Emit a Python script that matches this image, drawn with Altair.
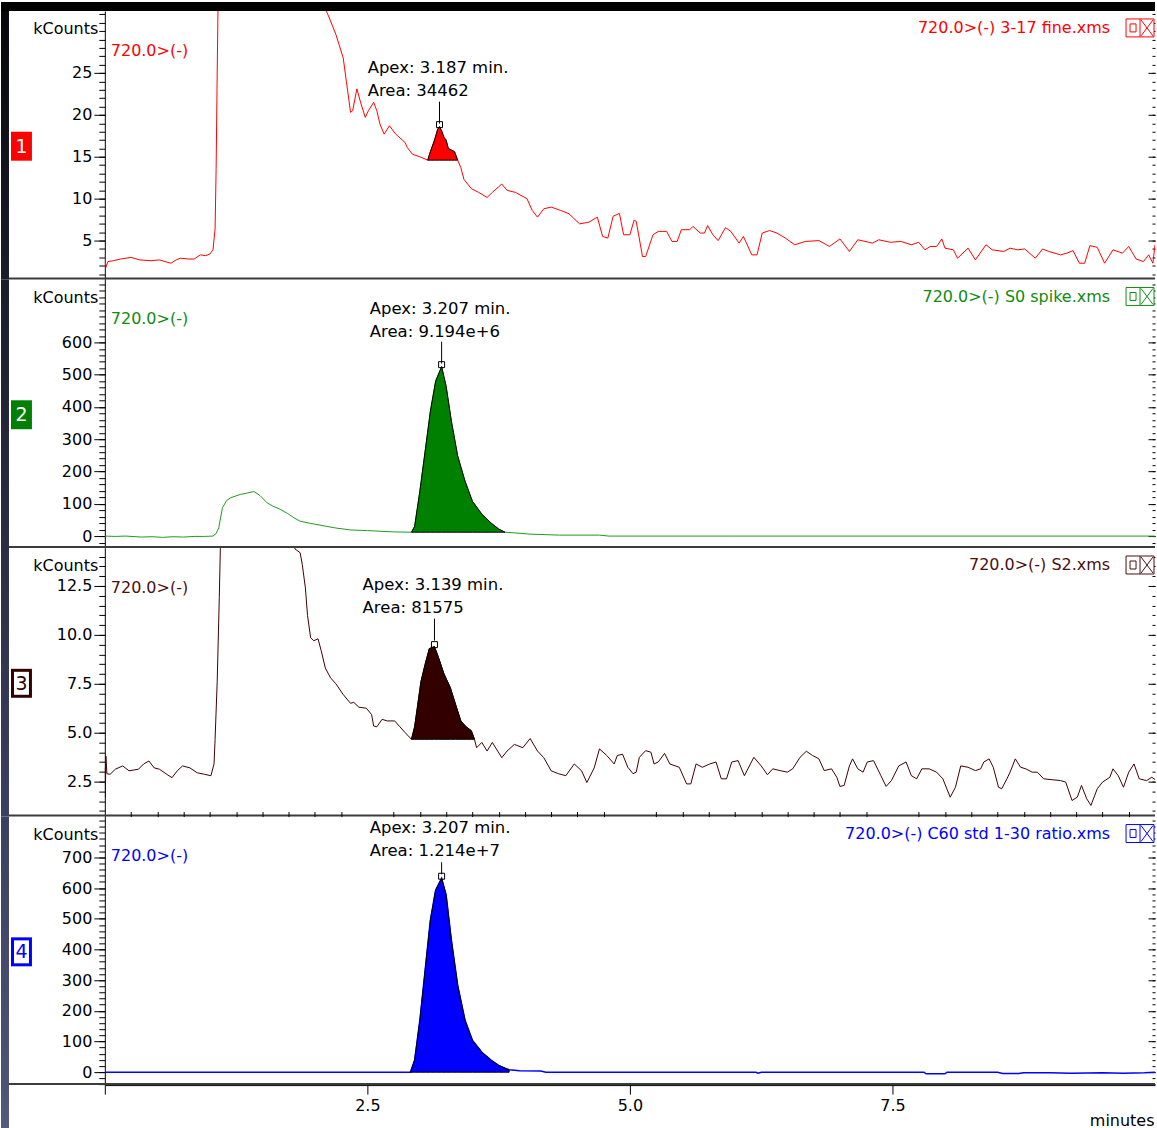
import altair as alt
import pandas as pd

FONT = "DejaVu Sans"
W, H, BOTTOM = 1052, 269, 43

# ---------------- data (time in minutes, kCounts) ----------------
P1_TRACE = [(0.00, 3.4), (0.01, 1.8), (0.03, 2.5), (0.08, 2.6), (0.15, 2.8), (0.25, 3.0), (0.33, 2.7),
            (0.44, 2.6), (0.52, 2.7), (0.60, 2.4), (0.63, 2.3), (0.68, 2.7), (0.72, 2.9), (0.80, 2.8),
            (0.85, 2.8), (0.91, 3.3), (0.96, 3.2), (1.00, 3.4), (1.03, 3.9), (1.05, 6.4), (1.06, 13.6),
            (1.07, 25.0), (1.09, 45.0), (1.20, 90.0), (1.60, 140.0), (2.00, 70.0), (2.08, 36.0),
            (2.10, 32.6), (2.13, 31.8), (2.20, 29.6), (2.23, 28.4), (2.27, 26.8), (2.30, 24.0), (2.34, 20.3),
            (2.36, 20.5), (2.40, 23.1), (2.44, 21.3), (2.48, 19.7), (2.51, 20.5), (2.56, 21.5), (2.59, 20.5),
            (2.62, 18.9), (2.66, 17.7), (2.71, 18.7), (2.77, 17.7), (2.86, 16.7), (2.88, 16.1), (2.93, 15.3),
            (3.00, 15.0), (3.075, 14.6), (3.10, 15.6), (3.14, 17.0), (3.17, 18.3), (3.187, 18.6), (3.21, 18.0),
            (3.23, 17.3), (3.25, 17.0), (3.27, 16.0), (3.30, 15.8), (3.33, 15.6), (3.36, 14.6), (3.39, 13.7),
            (3.42, 12.3), (3.49, 11.2), (3.56, 10.75), (3.64, 10.15), (3.69, 10.75), (3.78, 11.75), (3.83, 11.0),
            (3.91, 10.75), (4.02, 10.0), (4.07, 8.6), (4.12, 7.8), (4.18, 8.8), (4.25, 9.0), (4.34, 8.6),
            (4.42, 8.2), (4.52, 7.0), (4.61, 7.2), (4.69, 7.8), (4.74, 5.5), (4.79, 5.3), (4.84, 7.9),
            (4.90, 8.25), (4.94, 5.7), (5.00, 5.7), (5.04, 7.45), (5.06, 7.3), (5.12, 3.1), (5.15, 3.1),
            (5.22, 5.7), (5.27, 6.1), (5.35, 6.1), (5.40, 4.9), (5.45, 4.9), (5.49, 6.3), (5.57, 6.3),
            (5.60, 6.7), (5.67, 5.9), (5.71, 5.9), (5.74, 6.8), (5.79, 5.7), (5.84, 5.0), (5.91, 6.55),
            (5.96, 6.1), (6.04, 4.7), (6.08, 5.5), (6.11, 4.7), (6.16, 3.3), (6.21, 3.3), (6.26, 5.9),
            (6.33, 6.2), (6.40, 5.9), (6.48, 5.3), (6.57, 4.5), (6.67, 4.9), (6.80, 5.0), (6.90, 4.3),
            (7.00, 5.2), (7.09, 3.7), (7.17, 5.1), (7.31, 4.7), (7.37, 5.1), (7.48, 4.8), (7.58, 4.9),
            (7.68, 4.5), (7.75, 4.8), (7.81, 3.9), (7.86, 4.3), (7.92, 4.3), (7.97, 5.2), (8.00, 4.1),
            (8.08, 3.9), (8.12, 2.9), (8.22, 4.1), (8.29, 2.7), (8.39, 4.5), (8.45, 3.9), (8.56, 3.7),
            (8.62, 4.1), (8.69, 3.9), (8.76, 4.0), (8.86, 2.9), (8.93, 4.0), (8.99, 3.7), (9.10, 3.3),
            (9.16, 3.5), (9.22, 3.8), (9.28, 2.3), (9.33, 2.3), (9.38, 4.4), (9.45, 4.2), (9.52, 2.3),
            (9.60, 3.9), (9.69, 3.5), (9.75, 4.3), (9.82, 2.8), (9.89, 2.5), (9.94, 3.3), (9.98, 2.3),
            (10.0, 4.5)]
P1_PEAK = [(3.075, 14.6), (3.10, 15.6), (3.14, 17.0), (3.17, 18.3), (3.187, 18.6), (3.21, 18.0),
           (3.23, 17.3), (3.25, 17.0), (3.27, 16.0), (3.30, 15.8), (3.33, 15.6), (3.36, 14.6)]
P1_BASE = 14.6
P1_APEX = (3.187, 18.6)

P2_TRACE = [(0.00, 0), (0.10, -1), (0.20, 0), (0.35, -3), (0.45, -2), (0.55, -4), (0.65, -2), (0.75, -3),
            (0.85, -1), (0.95, -1), (1.03, 0), (1.06, 8), (1.085, 26), (1.12, 88), (1.16, 110), (1.20, 119),
            (1.29, 129), (1.35, 133), (1.42, 138), (1.48, 125), (1.545, 103), (1.60, 93), (1.67, 83),
            (1.74, 70), (1.80, 57), (1.86, 46), (1.95, 40), (2.05, 34), (2.20, 25), (2.34, 19), (2.50, 17),
            (2.62, 15), (2.75, 13), (2.92, 12), (2.95, 30), (3.00, 139), (3.05, 263), (3.10, 387),
            (3.15, 480), (3.207, 525), (3.25, 464), (3.30, 356), (3.36, 248), (3.43, 170), (3.50, 108),
            (3.59, 68), (3.68, 40), (3.75, 22), (3.81, 12), (3.90, 10), (4.05, 6), (4.33, 3), (4.71, 3),
            (4.80, 0), (6.00, 0), (8.00, 0), (10.0, 0)]
P2_PEAK = [(2.92, 12), (2.95, 30), (3.00, 139), (3.05, 263), (3.10, 387), (3.15, 480), (3.207, 525),
           (3.25, 464), (3.30, 356), (3.36, 248), (3.43, 170), (3.50, 108), (3.59, 68), (3.68, 40),
           (3.75, 22), (3.81, 12)]
P2_BASE = 12
P2_APEX = (3.207, 525)

P3_TRACE = [(0.00, 3.2), (0.005, 1.7), (0.01, 3.8), (0.02, 2.9), (0.05, 2.87), (0.10, 3.13), (0.17, 3.3),
            (0.23, 3.05), (0.32, 3.13), (0.37, 3.4), (0.42, 3.55), (0.47, 3.2), (0.52, 3.13), (0.59, 2.87),
            (0.64, 2.7), (0.69, 3.05), (0.74, 3.3), (0.81, 3.2), (0.88, 2.95), (0.95, 2.87), (1.01, 2.8),
            (1.04, 3.4), (1.05, 4.66), (1.07, 7.6), (1.09, 11.9), (1.10, 14.4), (1.12, 20.0), (1.50, 40.0),
            (1.80, 15.5), (1.81, 14.4), (1.86, 14.2), (1.88, 13.6), (1.91, 12.4), (1.93, 11.0), (1.96, 9.85),
            (1.99, 9.7), (2.03, 9.8), (2.06, 9.2), (2.10, 8.3), (2.15, 7.8), (2.20, 7.5), (2.27, 6.95),
            (2.34, 6.5), (2.37, 6.55), (2.42, 6.3), (2.49, 6.25), (2.54, 5.93), (2.56, 5.34), (2.59, 5.3),
            (2.64, 5.68), (2.69, 5.6), (2.76, 5.6), (2.81, 5.3), (2.86, 5.0), (2.92, 4.66), (2.95, 5.3),
            (2.98, 6.44), (3.01, 7.6), (3.05, 8.5), (3.09, 9.3), (3.139, 9.4), (3.18, 8.8), (3.23, 8.0),
            (3.29, 7.3), (3.34, 6.44), (3.39, 5.6), (3.44, 5.3), (3.49, 5.1), (3.52, 4.66), (3.54, 4.23),
            (3.59, 4.5), (3.64, 4.06), (3.69, 4.5), (3.78, 3.72), (3.83, 4.06), (3.90, 4.4), (3.98, 4.23),
            (4.05, 4.7), (4.12, 4.06), (4.18, 3.72), (4.25, 3.05), (4.32, 2.9), (4.39, 2.8), (4.47, 3.4),
            (4.54, 3.05), (4.59, 2.45), (4.66, 3.2), (4.71, 4.17), (4.78, 3.83), (4.85, 3.4), (4.88, 3.83),
            (4.93, 3.9), (4.98, 3.23), (5.03, 2.9), (5.06, 2.98), (5.09, 3.74), (5.15, 4.08), (5.20, 4.0),
            (5.23, 3.4), (5.27, 3.5), (5.33, 3.94), (5.38, 3.4), (5.47, 3.23), (5.54, 2.38), (5.58, 2.38),
            (5.63, 3.4), (5.69, 3.23), (5.76, 3.4), (5.82, 3.5), (5.87, 2.64), (5.92, 2.64), (5.97, 3.5),
            (6.03, 3.57), (6.09, 2.8), (6.18, 3.74), (6.25, 3.3), (6.31, 2.85), (6.36, 3.15), (6.43, 3.06),
            (6.50, 2.98), (6.55, 3.15), (6.62, 3.74), (6.68, 4.05), (6.74, 3.83), (6.80, 3.66), (6.85, 3.06),
            (6.92, 3.15), (6.97, 2.72), (7.00, 2.25), (7.04, 2.3), (7.09, 3.3), (7.12, 3.66), (7.17, 3.15),
            (7.22, 2.98), (7.26, 3.5), (7.32, 3.57), (7.39, 2.8), (7.44, 2.25), (7.49, 2.55), (7.56, 3.3),
            (7.63, 3.5), (7.68, 2.8), (7.73, 2.64), (7.78, 3.15), (7.85, 3.15), (7.92, 2.98), (7.98, 2.64),
            (8.05, 1.7), (8.10, 2.21), (8.15, 3.3), (8.22, 3.23), (8.29, 3.06), (8.34, 3.15), (8.37, 3.5),
            (8.42, 3.66), (8.46, 3.23), (8.51, 2.21), (8.54, 2.13), (8.59, 2.64), (8.62, 2.98), (8.67, 3.66),
            (8.72, 3.23), (8.77, 3.15), (8.83, 2.98), (8.88, 2.98), (8.94, 2.64), (9.01, 2.6), (9.10, 2.55),
            (9.15, 2.47), (9.21, 1.53), (9.26, 1.7), (9.30, 2.3), (9.35, 1.62), (9.39, 1.28), (9.45, 2.13),
            (9.50, 2.47), (9.57, 2.72), (9.60, 3.15), (9.65, 2.8), (9.70, 2.21), (9.75, 2.98), (9.80, 3.4),
            (9.85, 2.64), (9.92, 2.55), (9.97, 2.72), (10.0, 2.6)]
P3_PEAK = [(2.92, 4.66), (2.95, 5.3), (2.98, 6.44), (3.01, 7.6), (3.05, 8.5), (3.09, 9.3), (3.139, 9.4),
           (3.18, 8.8), (3.23, 8.0), (3.29, 7.3), (3.34, 6.44), (3.39, 5.6), (3.44, 5.3), (3.49, 5.1),
           (3.52, 4.66)]
P3_BASE = 4.66
P3_APEX = (3.139, 9.4)

P4_TRACE = [(0.00, 0), (1.00, 0), (2.00, 0), (2.91, 0), (2.95, 39), (3.00, 169), (3.05, 332), (3.10, 495),
            (3.15, 593), (3.207, 632), (3.25, 577), (3.30, 430), (3.36, 283), (3.43, 169), (3.50, 104),
            (3.59, 65), (3.68, 39), (3.75, 22), (3.81, 13), (3.85, 8), (3.95, 5), (4.15, 4), (4.20, 0),
            (6.20, 0), (6.22, -3), (6.25, 0), (7.80, 0), (7.82, -5), (8.00, -5), (8.02, 0), (8.50, 0),
            (8.55, -4), (8.70, -4), (8.75, -2), (9.00, -2), (9.20, -3), (9.50, -2), (9.70, -3), (9.90, -2),
            (10.0, 0)]
P4_PEAK = [(2.91, 0), (2.95, 39), (3.00, 169), (3.05, 332), (3.10, 495), (3.15, 593), (3.207, 632),
           (3.25, 577), (3.30, 430), (3.36, 283), (3.43, 169), (3.50, 104), (3.59, 65), (3.68, 39),
           (3.75, 22), (3.81, 13), (3.85, 8)]
P4_BASE = 0
P4_APEX = (3.207, 632)

APEX_TEXT = ["Apex: 3.187 min.", "Apex: 3.207 min.", "Apex: 3.139 min.", "Apex: 3.207 min."]
AREA_TEXT = ["Area: 34462", "Area: 9.194e+6", "Area: 81575", "Area: 1.214e+7"]
RIGHT_LABELS = ["720.0>(-) 3-17 fine.xms", "720.0>(-) S0 spike.xms", "720.0>(-) S2.xms",
                "720.0>(-) C60 std 1-30 ratio.xms"]
LEFT_LABEL = "720.0>(-)"
Y_DOMAINS = [[0.36, 32.4], [-37, 795], [0.71, 14.44], [-42, 833]]
Y_MAJOR = [[5, 10, 15, 20, 25], [0, 100, 200, 300, 400, 500, 600], [2.5, 5.0, 7.5, 10.0, 12.5],
           [0, 100, 200, 300, 400, 500, 600, 700]]
Y_MINOR = [[float(k) for k in range(1, 33)],
           [float(k) for k in range(-20, 781, 20)],
           [k * 0.5 for k in range(2, 29)],
           [float(k) for k in range(-40, 821, 20)]]
Y_FORMAT = ["d", "d", ".1f", "d"]
X_MAJOR = [0, 2.5, 5.0, 7.5]
X_MINOR = [k * 0.25 for k in range(1, 40) if k % 10 != 0]

# styling
LINE_COL = ["#ff0000", "#1f9a1f", "#3d0000", "#0000ff"]
FILL_COL = ["#ff0000", "#008000", "#330000", "#0000ff"]
TEXT_COL = ["#ff0000", "#118a11", "#4a0f0f", "#0000ff"]
LINE_W = [1, 1, 1, 1.5]
BOX_SOLID = [True, True, False, False]
# (apex text dy, area text dy, rule start offset, rule end offset)
ANNOT = [(-59, -36, -3, -25), (-58, -35, -3, -25), (-62, -39, -6, -28), (-50, -27, -4, -16)]
STRIP = ["#07070b", "#1b1d2b", "#2b2e44", "#3c4060", "#4d5373", "#555b7a"]
TXT = 16
ANN = 16.5


def grad(c1, c2, mid=None):
    stops = [{"offset": 0, "color": c1}]
    if mid is not None:
        stops.append({"offset": mid[0], "color": mid[1]})
    stops.append({"offset": 1, "color": c2})
    return {"gradient": "linear", "x1": 0, "x2": 0, "y1": 0, "y2": 1, "stops": stops}


def make_panel(i, trace, peak, base, apex):
    last = i == 3
    df = pd.DataFrame(trace, columns=["t", "v"])
    pk = pd.DataFrame(peak, columns=["t", "v"])
    pk["b"] = base
    ap = pd.DataFrame([apex], columns=["t", "v"])
    one = pd.DataFrame({"k": [0]})
    xs = alt.Scale(domain=[0, 10], nice=False, zero=False)
    ys = alt.Scale(domain=Y_DOMAINS[i], nice=False, zero=False)
    lc, fc, tc = LINE_COL[i], FILL_COL[i], TEXT_COL[i]

    left_major = alt.Axis(orient="left", values=Y_MAJOR[i], format=Y_FORMAT[i], tickSize=11,
                          labelPadding=2, title="kCounts", titleAngle=0, titleAlign="right",
                          titleBaseline="middle", titleX=-7, titleY=18, domain=True, labelOverlap=False)
    left_minor = alt.Axis(orient="left", values=Y_MINOR[i], tickSize=6, labels=False, domain=False,
                          title=None)
    right_major = alt.Axis(orient="right", values=Y_MAJOR[i], tickSize=7, offset=-7, labels=False,
                           domain=False, title=None)
    right_minor = alt.Axis(orient="right", values=Y_MINOR[i], tickSize=3, offset=-3, labels=False,
                           domain=False, title=None)
    if last:
        x_major = alt.Axis(values=X_MAJOR, tickSize=9, labelPadding=3,
                           labelExpr="datum.value == 0 ? '' : format(datum.value, '.1f')",
                           title="minutes", titleX=W - 1, titleY=35, titleAlign="right",
                           titleBaseline="middle", domain=True, labelFlush=False)
        x_minor = alt.Axis(values=X_MINOR, tickSize=5, labels=False, domain=False, title=None)
    else:
        x_major = None
        x_minor = None

    layers = []
    strip_h = H + BOTTOM if last else H
    strip_fill = grad(STRIP[3], STRIP[5], (H / (H + BOTTOM), STRIP[4])) if last else grad(STRIP[i], STRIP[i + 1])
    layers.append(alt.Chart(one).mark_rect(color=strip_fill).encode(
        x=alt.value(-104), x2=alt.value(-96), y=alt.value(0), y2=alt.value(strip_h)))
    if i == 0:
        layers.append(alt.Chart(one).mark_rect(color="black").encode(
            x=alt.value(-104), x2=alt.value(W), y=alt.value(-9), y2=alt.value(0)))
    layers.append(alt.Chart(one).mark_rule(color="#3c3c3c", strokeWidth=2).encode(
        x=alt.value(-96), x2=alt.value(W), y=alt.value(H - 1)))

    layers.append(alt.Chart(df).mark_line(color=lc, strokeWidth=LINE_W[i], clip=True).encode(
        x=alt.X("t:Q", scale=xs, axis=x_major), y=alt.Y("v:Q", scale=ys, axis=left_major)))
    layers.append(alt.Chart(pk).mark_area(color=fc, stroke="black", strokeWidth=1, opacity=1).encode(
        x=alt.X("t:Q", scale=xs, axis=x_minor), y=alt.Y("v:Q", scale=ys, axis=left_minor),
        y2=alt.Y2("b:Q")))

    ady, rdy, r1, r2 = ANNOT[i]
    layers.append(alt.Chart(ap).mark_rule(color="black", strokeWidth=1, yOffset=r1, y2Offset=r2).encode(
        x=alt.X("t:Q", scale=xs, axis=None), y=alt.Y("v:Q", scale=ys, axis=right_minor), y2=alt.Y2("v:Q")))
    layers.append(alt.Chart(ap).mark_point(shape="square", filled=False, size=36, color="black",
                                            strokeWidth=1, opacity=1, yOffset=-2).encode(
        x=alt.X("t:Q", scale=xs, axis=None), y=alt.Y("v:Q", scale=ys, axis=right_major)))
    for txt, dy in ((APEX_TEXT[i], ady), (AREA_TEXT[i], rdy)):
        layers.append(alt.Chart(ap).mark_text(text=txt, align="left", baseline="middle", dx=-72, dy=dy,
                                               font=FONT, fontSize=ANN, color="black").encode(
            x=alt.X("t:Q", scale=xs, axis=None), y=alt.Y("v:Q", scale=ys, axis=None)))

    # labels
    layers.append(alt.Chart(one).mark_text(text=LEFT_LABEL, align="left", baseline="middle", font=FONT,
                                           fontSize=TXT, color=tc).encode(x=alt.value(6), y=alt.value(40)))
    layers.append(alt.Chart(one).mark_text(text=RIGHT_LABELS[i], align="right", baseline="middle",
                                           font=FONT, fontSize=TXT, color=tc).encode(
        x=alt.value(W - 45), y=alt.value(17.5)))
    # icon box
    layers.append(alt.Chart(one).mark_rect(fill="white", stroke=tc, strokeWidth=1).encode(
        x=alt.value(W - 29), x2=alt.value(W - 1), y=alt.value(8), y2=alt.value(26)))
    layers.append(alt.Chart(one).mark_rule(color=tc, strokeWidth=1).encode(
        x=alt.value(W - 15), y=alt.value(8), y2=alt.value(26)))
    layers.append(alt.Chart(one).mark_rect(fill="white", stroke=tc, strokeWidth=1).encode(
        x=alt.value(W - 25), x2=alt.value(W - 19), y=alt.value(13), y2=alt.value(21)))
    layers.append(alt.Chart(one).mark_rule(color=tc, strokeWidth=1).encode(
        x=alt.value(W - 14), x2=alt.value(W - 2), y=alt.value(9), y2=alt.value(25)))
    layers.append(alt.Chart(one).mark_rule(color=tc, strokeWidth=1).encode(
        x=alt.value(W - 2), x2=alt.value(W - 14), y=alt.value(9), y2=alt.value(25)))
    # number box
    layers.append(alt.Chart(one).mark_rect(color=fc).encode(
        x=alt.value(-94), x2=alt.value(-73), y=alt.value(121), y2=alt.value(150)))
    if not BOX_SOLID[i]:
        layers.append(alt.Chart(one).mark_rect(color="white").encode(
            x=alt.value(-91), x2=alt.value(-76), y=alt.value(124), y2=alt.value(147)))
    layers.append(alt.Chart(one).mark_text(text=str(i + 1), align="center", baseline="middle", font=FONT,
                                           fontSize=19, color="white" if BOX_SOLID[i] else fc).encode(
        x=alt.value(-83.5), y=alt.value(136)))

    return alt.layer(*layers).resolve_axis(x="independent", y="independent").properties(width=W, height=H)


panels = [
    make_panel(0, P1_TRACE, P1_PEAK, P1_BASE, P1_APEX),
    make_panel(1, P2_TRACE, P2_PEAK, P2_BASE, P2_APEX),
    make_panel(2, P3_TRACE, P3_PEAK, P3_BASE, P3_APEX),
    make_panel(3, P4_TRACE, P4_PEAK, P4_BASE, P4_APEX),
]

chart = alt.vconcat(*panels, spacing=0, bounds="flush").properties(
    background="white", padding=0
).configure_view(stroke="transparent").configure_axis(
    labelFont=FONT, labelFontSize=TXT, labelColor="black", titleFont=FONT, titleFontSize=TXT,
    titleFontWeight="normal", titleColor="black", tickColor="black", domainColor="black",
    grid=False, tickWidth=1, domainWidth=1
)

chart.save("out.html", embed_options={"renderer": "svg", "actions": False})
